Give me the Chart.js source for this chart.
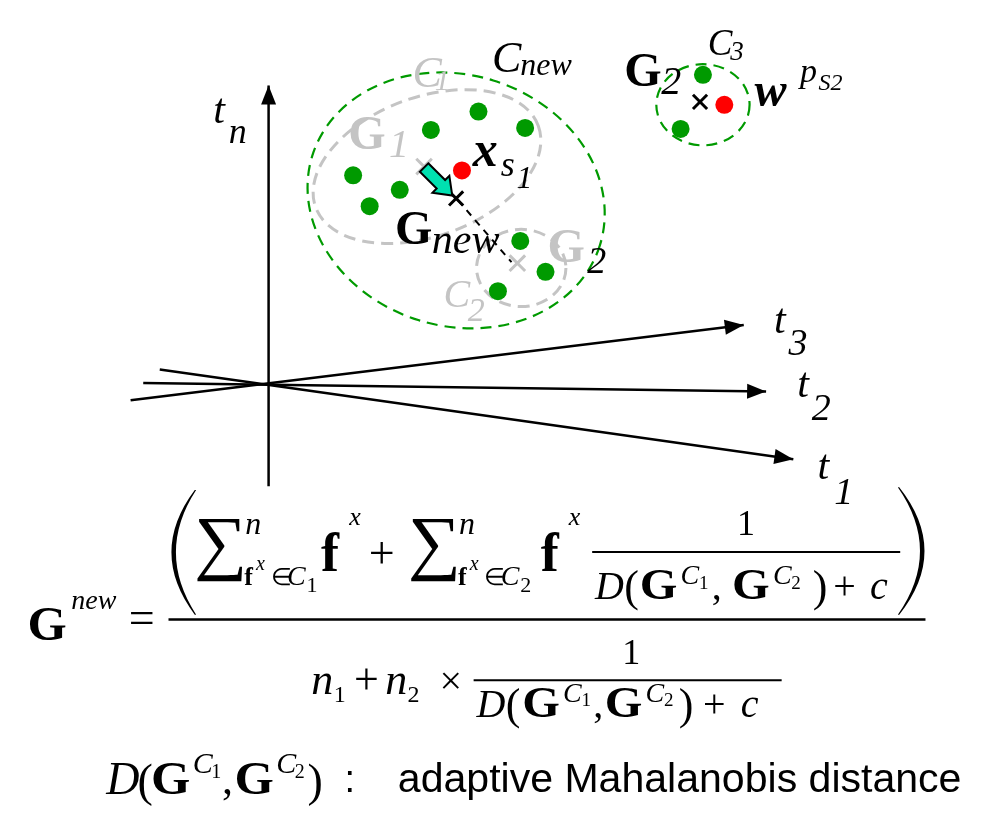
<!DOCTYPE html>
<html>
<head>
<meta charset="utf-8">
<script src="https://cdn.jsdelivr.net/npm/chart.js@4.4.1/dist/chart.umd.min.js"></script>
<style>
  html, body { margin: 0; padding: 0; background: #ffffff; }
  #wrap { width: 990px; height: 817px; }
</style>
</head>
<body>
<div id="wrap"><canvas id="sketch" width="990" height="817"></canvas></div>
<script>
// ---- feature-space sketch: clusters, centroids and projection axes ----
const greenDots = [
  {x:478,y:101},{x:429,y:120},{x:526,y:118},{x:349,y:167},{x:397,y:182},
  {x:366,y:199},{x:521,y:235},{x:547,y:267},{x:498,y:287},
  {x:709,y:63},{x:686,y:119}
];
const redDots = [{x:461,y:162},{x:731,y:94}];
const centroids = [{x:455,y:191},{x:706,y:91}];
const oldCentroids = [{x:422,y:158},{x:518,y:258}];

const axisTn = [{x:262,y:489},{x:262,y:74}];
const axisT3 = [{x:120,y:400},{x:751,y:322}];
const axisT2 = [{x:133,y:382},{x:774,y:391}];
const axisT1 = [{x:150,y:368},{x:802,y:461}];

const mergeLink = [{x:457,y:193},{x:512,y:257}];
const shiftArrow = [{x:422,y:159},{x:451,y:188}];

// cluster outlines: centre x, centre y, radius x, radius y, rotation (rad)
const clusterCx = [455, 425, 522, 709];
const clusterCy = [193, 158, 263, 94];
const clusterRx = [155, 122, 46, 48];
const clusterRy = [130, 72, 40, 42];
const clusterRot = [0.30, -0.35, 0, 0];
const clusterKind = ['merged', 'old', 'old', 'merged'];

const INK = '#000000';
const GREY = '#c4c4c4';
const GREEN = '#009a00';
const SERIF = '"Liberation Serif","Times New Roman",serif';
const SANS = '"Liberation Sans",Arial,sans-serif';

// text runs: [text, x, baseline, style, size, colour]
const diagramLabels = [
  ['t',205,113,'i',42,INK],['n',221,134,'i',36,INK],
  ['t',782,330,'i',42,INK],['3',797,353,'i',38,INK],
  ['t',806,397,'i',42,INK],['2',821,420,'i',38,INK],
  ['t',827,482,'i',42,INK],['1',844,507,'i',38,INK],
  ['C',492,60,'i',44,INK],['new',521,63,'i',32,INK],
  ['C',410,76,'i',44,GREY],['1',433,79,'i',30,GREY],
  ['G',344,140,'b',48,GREY],['1',386,148,'i',40,GREY],
  ['x',472,157,'bi',50,INK],['s',501,168,'i',36,INK],['1',517,180,'i',32,INK],
  ['G',392,238,'b',48,INK],['new',430,247,'i',42,INK],
  ['G',549,257,'b',48,GREY],['2',590,268,'i',38,INK],
  ['C',442,303,'i',40,GREY],['2',467,318,'i',34,GREY],
  ['G',628,75,'b',48,INK],['2',666,83,'i',40,INK],
  ['C',714,42,'i',37,INK],['3',737,48,'i',27,INK],
  ['w',762,95,'bi',48,INK],
  ['p',809,70,'i',34,INK],['S2',828,79,'i',24,INK]
];

// formula runs: [text, x, baseline, style, size, horizontal stretch]
const formulaLabels = [
  ['G',14,648,'b',48,1.05],['new',59,616,'i',28,1],['=',118,641,'',46,1],
  ['n',238,538,'i',32,1],
  ['f',237,591,'b',26,1],['x',249,576,'i',20,1],['\u2208',264,591,'',24,1],['C',281,591,'i',28,1],['1',301,598,'',22,1],
  ['f',316,577,'b',54,1],['x',345,529,'i',26,1],
  ['+',365,574,'',46,1],
  ['n',458,538,'i',32,1],
  ['f',457,591,'b',26,1],['x',469,576,'i',20,1],['\u2208',484,591,'',24,1],['C',501,591,'i',28,1],['2',521,598,'',22,1],
  ['f',542,577,'b',54,1],['x',571,529,'i',26,1],
  ['1',744,539,'',36,1],
  ['D',598,606,'i',40,1],['(',628,608,'',44,1],['G',644,606,'b',44,1.1],['C',686,590,'i',28,1],['1',705,595,'',19,1],
  [',',718,606,'',40,1],['G',739,606,'b',44,1.1],['C',781,590,'i',28,1],['2',800,595,'',19,1],
  [')',822,608,'',44,1],['+',843,606,'',40,1],['c',881,606,'i',40,1],
  ['n',306,704,'i',44,1],['1',329,712,'',24,1],['+',350,704,'',44,1],['n',382,704,'i',44,1],['2',405,712,'',24,1],['\u00d7',438,704,'',40,1],
  ['1',626,673,'',36,1],
  ['D',476,728,'i',40,1],['(',506,730,'',44,1],['G',523,728,'b',44,1.1],['C',565,712,'i',28,1],['1',584,717,'',19,1],
  [',',596,728,'',40,1],['G',608,728,'b',44,1.1],['C',650,712,'i',28,1],['2',669,717,'',19,1],
  [')',684,730,'',44,1],['+',709,728,'',40,1],['c',748,728,'i',40,1],
  ['D',95,808,'i',46,1],['(',127,810,'',46,1],['G',141,808,'b',46,1.1],['C',184,786,'i',30,1],['1',203,791,'',20,1],
  [',',214,808,'',44,1],['G',227,808,'b',46,1.1],['C',270,786,'i',30,1],['2',289,791,'',20,1],[')',302,810,'',46,1]
];
// summation signs: left, top, right, bottom
const sigmaBoxes = [[188,522,235,588],[408,522,455,588]];
// fraction bars: x0, x1, y, width
const fractionBars = [[159,938,627,2.5],[595,912,557,2],[473,790,690,2]];
// tall brackets: x at ends, x at bulge, top, bottom
const bracketShapes = [[186,162,493,622],[911,937,490,622]];
const legendNote = ['adaptive Mahalanobis distance', 395, 975, 806, 40];

function fontOf(style, size, fam) {
  return (style.includes('i') ? 'italic ' : '') + (style.includes('b') ? 'bold ' : '') + size + 'px ' + (fam || SERIF);
}

const sketchPlugin = {
  id: 'sketch',
  beforeDatasetsDraw(chart) {
    const {ctx, scales: {x, y}} = chart;
    ctx.save();
    for (let i = 0; i < clusterCx.length; i++) {
      const cx = x.getPixelForValue(clusterCx[i]);
      const cy = y.getPixelForValue(clusterCy[i]);
      const rx = Math.abs(x.getPixelForValue(clusterCx[i] + clusterRx[i]) - cx);
      const ry = Math.abs(y.getPixelForValue(clusterCy[i] + clusterRy[i]) - cy);
      ctx.beginPath();
      ctx.ellipse(cx, cy, rx, ry, clusterRot[i], 0, Math.PI * 2);
      if (clusterKind[i] === 'merged') {
        ctx.strokeStyle = GREEN; ctx.lineWidth = 2.2; ctx.setLineDash([11, 7]);
      } else {
        ctx.strokeStyle = GREY; ctx.lineWidth = 3; ctx.setLineDash([12, 7]);
      }
      ctx.stroke();
    }
    ctx.restore();
  },
  afterDatasetsDraw(chart) {
    const {ctx, scales: {x, y}} = chart;
    ctx.save();
    ctx.setLineDash([]);
    // arrow heads on the axes, block arrow for the centroid shift
    chart.data.datasets.forEach((ds, i) => {
      const pts = chart.getDatasetMeta(i).data;
      if (ds.arrowHead) {
        const a = pts[pts.length - 2], b = pts[pts.length - 1];
        const ang = Math.atan2(b.y - a.y, b.x - a.x);
        ctx.save();
        ctx.translate(b.x, b.y); ctx.rotate(ang);
        ctx.beginPath();
        ctx.moveTo(0, 0); ctx.lineTo(-19, -7.5); ctx.lineTo(-19, 7.5); ctx.closePath();
        ctx.fillStyle = INK; ctx.fill();
        ctx.restore();
      }
      if (ds.blockArrow) {
        const a = pts[0], b = pts[1];
        const ang = Math.atan2(b.y - a.y, b.x - a.x);
        const len = Math.hypot(b.x - a.x, b.y - a.y);
        ctx.save();
        ctx.translate(a.x, a.y); ctx.rotate(ang);
        ctx.beginPath();
        ctx.moveTo(0, -6); ctx.lineTo(len - 16, -6); ctx.lineTo(len - 16, -12);
        ctx.lineTo(len, 0); ctx.lineTo(len - 16, 12); ctx.lineTo(len - 16, 6);
        ctx.lineTo(0, 6); ctx.closePath();
        ctx.fillStyle = '#00e0b0'; ctx.fill();
        ctx.lineWidth = 2; ctx.strokeStyle = INK; ctx.lineJoin = 'miter'; ctx.stroke();
        ctx.restore();
      }
    });

    ctx.textBaseline = 'alphabetic';
    ctx.textAlign = 'left';
    const put = (t, px, py, style, size, col, fam, sx) => {
      ctx.save();
      ctx.font = fontOf(style, size, fam);
      ctx.fillStyle = col || INK;
      ctx.translate(x.getPixelForValue(px), y.getPixelForValue(py));
      if (sx && sx !== 1) ctx.scale(sx, 1);
      ctx.fillText(t, 0, 0);
      ctx.restore();
    };
    diagramLabels.forEach(l => put(l[0], l[1], l[2], l[3], l[4], l[5]));
    formulaLabels.forEach(l => put(l[0], l[1], l[2], l[3], l[4], INK, SERIF, l[5]));

    // summation signs fitted to their boxes
    sigmaBoxes.forEach(b => {
      ctx.font = fontOf('', 80);
      const m = ctx.measureText('\u2211');
      const w = m.actualBoundingBoxLeft + m.actualBoundingBoxRight;
      const h = m.actualBoundingBoxAscent + m.actualBoundingBoxDescent;
      const x0 = x.getPixelForValue(b[0]), y0 = y.getPixelForValue(b[1]);
      const x1 = x.getPixelForValue(b[2]), y1 = y.getPixelForValue(b[3]);
      ctx.save();
      ctx.translate(x0, y0);
      ctx.scale((x1 - x0) / w, (y1 - y0) / h);
      ctx.fillStyle = INK;
      ctx.fillText('\u2211', m.actualBoundingBoxLeft, m.actualBoundingBoxAscent);
      ctx.restore();
    });

    // fraction bars
    ctx.strokeStyle = INK;
    fractionBars.forEach(b => {
      ctx.lineWidth = b[3];
      ctx.beginPath();
      ctx.moveTo(x.getPixelForValue(b[0]), y.getPixelForValue(b[2]));
      ctx.lineTo(x.getPixelForValue(b[1]), y.getPixelForValue(b[2]));
      ctx.stroke();
    });

    // tall brackets as tapered crescents
    bracketShapes.forEach(b => {
      const xe = x.getPixelForValue(b[0]), xm = x.getPixelForValue(b[1]);
      const yt = y.getPixelForValue(b[2]), yb = y.getPixelForValue(b[3]);
      const dir = xm < xe ? 1 : -1;
      const cOuter = 2 * xm - xe;
      const cInner = 2 * (xm + dir * 4.5) - xe - dir * 1.4;
      ctx.beginPath();
      ctx.moveTo(xe, yt);
      ctx.quadraticCurveTo(cOuter, (yt + yb) / 2, xe, yb);
      ctx.lineTo(xe + dir * 1.4, yb);
      ctx.quadraticCurveTo(cInner, (yt + yb) / 2, xe + dir * 1.4, yt);
      ctx.closePath();
      ctx.fillStyle = INK; ctx.fill();
    });

    // note line in sans serif
    put(':', 340, legendNote[3], '', 38, INK, SANS);
    ctx.font = fontOf('', legendNote[4], SANS);
    const nw = ctx.measureText(legendNote[0]).width;
    const lx0 = x.getPixelForValue(legendNote[1]), lx1 = x.getPixelForValue(legendNote[2]);
    ctx.save();
    ctx.translate(lx0, y.getPixelForValue(legendNote[3]));
    ctx.scale((lx1 - lx0) / nw, 1);
    ctx.fillStyle = INK;
    ctx.fillText(legendNote[0], 0, 0);
    ctx.restore();

    ctx.restore();
  }
};

const axisStyle = { showLine: true, pointRadius: 0, borderColor: INK, borderWidth: 2.5, fill: false, arrowHead: true };

new Chart(document.getElementById('sketch').getContext('2d'), {
  type: 'scatter',
  data: {
    datasets: [
      { label: 'members', data: greenDots, pointRadius: 9, pointBackgroundColor: GREEN, pointBorderWidth: 0 },
      { label: 'new samples', data: redDots, pointRadius: 9, pointBackgroundColor: '#ff0000', pointBorderWidth: 0 },
      { label: 'centroids', data: centroids, pointStyle: 'crossRot', pointRadius: 10, pointBorderColor: INK, pointBorderWidth: 3 },
      { label: 'previous centroids', data: oldCentroids, pointStyle: 'crossRot', pointRadius: 11, pointBorderColor: GREY, pointBorderWidth: 3 },
      { label: 'link', data: mergeLink, showLine: true, pointRadius: 0, borderColor: INK, borderWidth: 2, borderDash: [7, 6] },
      { label: 'shift', data: shiftArrow, pointRadius: 0, blockArrow: true },
      Object.assign({ label: 't_n', data: axisTn }, axisStyle),
      Object.assign({ label: 't_3', data: axisT3 }, axisStyle),
      Object.assign({ label: 't_2', data: axisT2 }, axisStyle),
      Object.assign({ label: 't_1', data: axisT1 }, axisStyle)
    ]
  },
  options: {
    responsive: false,
    devicePixelRatio: 1,
    animation: false,
    events: [],
    layout: { padding: 0 },
    plugins: { legend: { display: false }, tooltip: { enabled: false } },
    scales: {
      x: { type: 'linear', min: 0, max: 990, display: false },
      y: { type: 'linear', min: 0, max: 817, reverse: true, display: false }
    }
  },
  plugins: [sketchPlugin]
});
</script>
</body>
</html>
